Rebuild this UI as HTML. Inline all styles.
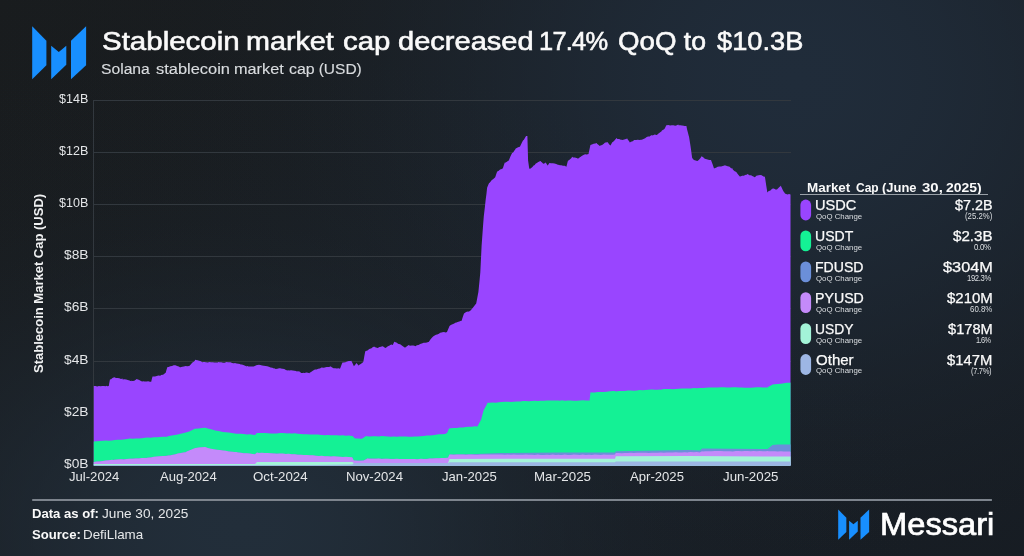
<!DOCTYPE html>
<html lang="en">
<head>
<meta charset="utf-8">
<title>Stablecoin market cap decreased 17.4% QoQ to $10.3B</title>
<style>
*{margin:0;padding:0;box-sizing:border-box}
html,body{width:1024px;height:556px;overflow:hidden;background:#181c20}
body{font-family:"Liberation Sans",sans-serif;color:#f4f5f6;position:relative}
#bg{position:absolute;left:0;top:0;width:1024px;height:556px;
background:
 radial-gradient(ellipse 685px 484px at 240px 530px, rgba(34,46,58,1.000) 0.0%, rgba(34,46,58,0.980) 6.2%, rgba(34,46,58,0.923) 12.5%, rgba(34,46,58,0.835) 18.8%, rgba(34,46,58,0.726) 25.0%, rgba(34,46,58,0.607) 31.2%, rgba(34,46,58,0.487) 37.5%, rgba(34,46,58,0.375) 43.8%, rgba(34,46,58,0.278) 50.0%, rgba(34,46,58,0.198) 56.2%, rgba(34,46,58,0.135) 62.5%, rgba(34,46,58,0.089) 68.8%, rgba(34,46,58,0.056) 75.0%, rgba(34,46,58,0.034) 81.2%, rgba(34,46,58,0.020) 87.5%, rgba(34,46,58,0.011) 93.8%, rgba(34,46,58,0.000) 100.0%),
 radial-gradient(ellipse 826px 734px at 796px 80px, rgba(32,44,58,1.000) 0.0%, rgba(32,44,58,0.980) 6.2%, rgba(32,44,58,0.923) 12.5%, rgba(32,44,58,0.835) 18.8%, rgba(32,44,58,0.726) 25.0%, rgba(32,44,58,0.607) 31.2%, rgba(32,44,58,0.487) 37.5%, rgba(32,44,58,0.375) 43.8%, rgba(32,44,58,0.278) 50.0%, rgba(32,44,58,0.198) 56.2%, rgba(32,44,58,0.135) 62.5%, rgba(32,44,58,0.089) 68.8%, rgba(32,44,58,0.056) 75.0%, rgba(32,44,58,0.034) 81.2%, rgba(32,44,58,0.020) 87.5%, rgba(32,44,58,0.011) 93.8%, rgba(32,44,58,0.000) 100.0%),
 linear-gradient(to bottom right, rgb(25,28,30), rgb(22,27,33));}
.abs{position:absolute;white-space:nowrap;line-height:1}
#title span{font-size:26.6px;color:#fafafa;-webkit-text-stroke:0.6px #fafafa}
#subtitle span{font-size:15.5px;color:#d9dcdf;-webkit-text-stroke:0.15px #d9dcdf}
.yl{font-size:12.3px;color:#e4e6e8}
.xl{font-size:12.6px;color:#e4e6e8}
#ytitle{left:32.4px;top:373.4px;font-size:13px;font-weight:bold;color:#f0f1f2;transform-origin:0 0;transform:rotate(-90deg)}
.ft{font-size:13px;color:#e6e8ea}
.ftb{font-size:13px;font-weight:bold;color:#fafafa}
#lgt span{font-size:12.3px;font-weight:bold;color:#fafafa}
#lgl{left:799.9px;top:194.1px;width:188.5px;height:1px;background:#9aa1a8}
.ln{font-size:14px;color:#fafafa;-webkit-text-stroke:0.25px #fafafa}
.lq{font-size:8px;color:#dcdfe2}
.lp{font-size:8.2px;color:#dcdfe2}
#brand span{font-size:30.6px;color:#fff;-webkit-text-stroke:0.7px #fff}
</style>
</head>
<body>
<div id="bg"></div>
<svg class="abs" style="left:0;top:0" width="1024" height="556" viewBox="0 0 1024 556">
 <!-- header logo -->
 <g fill="#188fff">
  <polygon points="32.2,26.3 46.4,40.8 46.4,65.3 32.2,79.2"/>
  <polygon points="51.2,45.8 58.8,52.1 66.3,45.8 66.3,64.7 51.2,79.2"/>
  <polygon points="71,40.8 86.1,26.3 86.1,65.3 71,79.2"/>
 </g>
 <!-- grid -->
 <g stroke="#32383e" stroke-width="1" shape-rendering="crispEdges">
  <line x1="93" y1="413.3" x2="790.5" y2="413.3"/>
  <line x1="93" y1="361.1" x2="790.5" y2="361.1"/>
  <line x1="93" y1="308.9" x2="790.5" y2="308.9"/>
  <line x1="93" y1="256.7" x2="790.5" y2="256.7"/>
  <line x1="93" y1="204.5" x2="790.5" y2="204.5"/>
  <line x1="93" y1="152.3" x2="790.5" y2="152.3"/>
  <line x1="93" y1="100.1" x2="790.5" y2="100.1"/>
  <line x1="93.5" y1="100" x2="93.5" y2="466"/>
 </g>
 <path fill="#9945ff" d="M93.8,465.6 L93.8,386.1 L95.5,385.9 L97.2,386.4 L98.9,385.9 L100.6,386.3 L102.3,386.1 L104.0,385.9 L105.7,386.3 L106.2,385.8 L107.4,386.3 L108.8,386.1 L109.1,384.1 L110.0,379.3 L110.8,379.4 L112.5,378.0 L114.2,377.3 L115.0,377.4 L115.9,377.9 L117.6,377.9 L119.3,378.2 L121.0,379.1 L122.5,378.6 L122.7,379.4 L124.4,379.2 L126.1,379.5 L127.8,379.9 L129.5,380.4 L131.2,381.3 L131.2,380.7 L132.9,380.9 L134.4,380.7 L134.6,380.4 L136.2,379.4 L136.3,379.0 L138.0,379.6 L139.7,380.3 L141.4,381.3 L142.5,381.4 L143.1,381.3 L144.8,381.6 L146.5,381.5 L148.2,381.3 L149.9,381.8 L151.2,381.7 L151.6,379.9 L152.5,376.6 L153.3,376.4 L155.0,376.4 L156.7,376.0 L158.4,375.4 L160.1,375.7 L161.8,374.7 L161.9,374.9 L163.5,374.4 L165.2,373.0 L165.6,373.1 L166.9,368.4 L167.5,367.1 L168.6,366.9 L170.3,366.3 L172.0,366.1 L173.7,365.2 L175.0,365.2 L175.4,365.2 L177.1,365.9 L178.8,366.4 L180.0,367.2 L180.5,367.2 L182.2,366.7 L183.9,366.6 L185.6,365.9 L187.3,366.3 L188.8,366.1 L189.0,366.2 L190.7,364.5 L192.4,362.4 L192.5,362.4 L194.1,361.4 L195.6,359.6 L195.8,360.0 L197.5,360.3 L199.2,360.8 L200.9,361.3 L202.5,362.5 L202.6,361.9 L204.3,362.0 L206.0,362.2 L207.7,362.6 L209.4,361.9 L211.1,362.2 L212.8,362.3 L214.5,362.6 L216.2,362.5 L217.9,362.6 L218.0,362.1 L219.6,362.2 L221.3,362.2 L223.0,362.7 L224.7,362.8 L226.4,362.1 L228.1,362.2 L229.8,362.2 L230.5,362.3 L231.5,362.8 L233.2,363.3 L234.2,363.3 L234.9,363.1 L236.6,363.6 L238.3,363.7 L240.0,364.0 L240.5,364.4 L241.7,364.6 L243.4,365.1 L245.1,365.8 L246.8,366.4 L246.8,365.8 L248.5,366.6 L250.2,366.5 L251.9,366.6 L253.6,366.5 L254.2,366.2 L255.3,365.8 L257.0,365.0 L258.0,365.1 L258.7,364.7 L260.4,365.0 L262.1,365.4 L263.8,365.7 L265.5,366.1 L267.2,366.3 L268.9,366.8 L270.6,367.4 L272.3,367.8 L274.0,368.6 L274.2,368.3 L275.7,369.0 L277.4,368.7 L279.1,368.2 L280.5,368.3 L280.8,368.4 L282.5,368.8 L284.2,369.0 L285.9,370.1 L287.6,370.6 L288.0,370.2 L289.3,370.4 L291.0,370.2 L292.7,370.4 L294.4,370.8 L296.1,371.0 L296.8,371.5 L297.8,371.3 L299.5,371.6 L301.2,373.0 L302.9,373.1 L303.0,372.8 L304.6,373.0 L306.3,372.5 L308.0,372.8 L309.2,373.2 L309.7,372.8 L311.4,371.7 L313.1,370.4 L314.2,369.9 L314.8,369.5 L316.5,369.6 L318.2,368.8 L319.9,368.6 L321.6,367.6 L321.8,367.5 L323.3,367.7 L325.0,367.4 L325.5,367.2 L326.7,367.1 L328.4,367.0 L330.1,366.7 L330.5,366.3 L331.8,367.3 L333.5,368.2 L334.2,368.3 L335.2,368.3 L336.9,368.4 L338.6,368.3 L339.9,368.7 L340.3,367.9 L342.0,363.4 L342.5,362.6 L343.7,362.5 L345.4,362.2 L347.1,361.5 L348.8,361.1 L350.5,360.9 L351.3,360.7 L352.2,362.5 L353.8,366.1 L353.9,366.2 L355.6,364.2 L356.4,362.9 L357.3,363.9 L358.9,365.7 L359.0,364.9 L360.7,364.0 L362.4,362.7 L363.3,361.9 L364.1,357.6 L365.2,351.5 L365.8,350.9 L367.5,350.4 L369.2,349.0 L370.9,348.4 L371.5,348.2 L372.6,347.2 L374.3,346.5 L374.6,346.9 L376.0,347.5 L377.7,348.0 L377.8,348.1 L379.4,347.1 L381.1,346.8 L381.5,346.5 L382.8,346.3 L384.5,347.4 L385.9,347.9 L386.2,347.5 L387.9,346.3 L389.6,345.6 L390.3,344.9 L391.3,344.5 L392.9,345.0 L393.0,344.5 L394.4,341.5 L394.7,342.0 L396.4,342.5 L398.1,343.8 L399.2,344.3 L399.8,344.1 L401.5,345.3 L403.2,346.5 L404.8,347.6 L404.9,347.8 L406.6,346.4 L408.3,345.3 L408.6,344.9 L410.0,345.7 L411.7,345.4 L413.4,345.6 L415.1,345.9 L415.5,346.3 L416.8,345.3 L418.5,345.1 L420.2,344.0 L421.8,343.4 L421.9,343.4 L423.6,342.7 L425.3,342.8 L427.0,342.4 L428.1,342.1 L428.7,342.0 L430.4,339.4 L432.1,337.6 L433.1,336.6 L433.8,336.1 L435.5,335.0 L436.9,334.5 L437.2,334.4 L438.9,333.8 L440.6,332.4 L440.7,332.8 L442.3,332.3 L444.0,332.1 L445.7,332.4 L447.0,332.0 L447.4,331.0 L449.1,326.9 L449.5,326.1 L450.8,325.0 L452.5,324.3 L454.2,323.4 L455.8,322.6 L455.9,322.7 L457.6,322.0 L459.3,321.5 L461.0,320.8 L461.5,321.1 L462.7,317.2 L464.0,313.4 L464.4,313.3 L466.1,311.9 L467.8,311.4 L468.0,311.7 L469.5,311.2 L470.8,310.2 L471.2,309.7 L472.9,307.8 L474.6,305.4 L476.2,303.6 L476.3,302.9 L478.0,294.0 L478.4,291.9 L479.7,279.0 L480.3,272.4 L481.4,250.0 L481.6,245.8 L483.1,225.1 L483.8,216.3 L484.8,207.8 L485.7,199.4 L486.5,193.4 L487.1,187.8 L488.2,185.0 L489.0,183.3 L489.9,182.4 L491.6,180.2 L493.3,178.9 L495.0,177.5 L495.3,177.1 L496.7,172.8 L497.2,171.4 L498.4,171.1 L500.1,169.5 L501.8,169.1 L502.9,168.3 L503.5,166.2 L504.8,162.6 L505.2,162.7 L506.9,161.7 L508.5,160.5 L508.6,161.1 L510.3,156.8 L511.1,155.0 L512.0,153.3 L513.6,151.9 L513.7,151.5 L515.4,149.3 L515.5,148.7 L517.1,147.7 L518.8,147.0 L519.9,146.8 L520.5,145.6 L522.2,142.0 L523.0,140.4 L523.9,139.7 L525.6,136.7 L526.2,135.9 L527.3,135.9 L527.4,135.9 L528.1,160.4 L529.0,166.8 L529.3,168.7 L530.7,168.5 L531.2,167.9 L532.4,167.1 L534.1,165.1 L534.3,165.6 L535.8,163.5 L536.9,163.1 L537.5,162.5 L539.2,161.5 L540.6,160.9 L540.9,161.6 L542.6,163.1 L543.2,163.7 L544.3,163.5 L545.7,162.6 L546.0,162.9 L547.6,165.6 L547.7,165.4 L549.4,163.1 L551.1,163.2 L552.8,163.2 L554.5,163.6 L556.2,163.9 L557.9,164.7 L559.5,165.0 L559.6,165.2 L561.3,165.2 L563.0,165.7 L564.7,165.8 L566.4,166.7 L567.7,161.5 L568.1,160.8 L569.8,159.4 L571.5,158.1 L572.1,156.7 L573.2,157.6 L574.9,157.6 L576.6,158.0 L578.3,158.7 L578.4,158.3 L580.0,157.2 L581.7,156.1 L583.4,155.0 L585.1,154.2 L586.8,154.4 L588.5,154.1 L590.2,146.1 L590.4,145.0 L591.9,144.5 L593.6,143.8 L595.3,143.4 L596.7,142.9 L597.0,143.8 L598.7,145.1 L599.8,146.1 L600.4,145.6 L602.1,145.0 L603.8,143.7 L604.8,142.8 L605.5,142.4 L607.2,142.3 L607.8,142.3 L608.9,144.0 L610.3,145.6 L610.6,145.3 L612.3,142.2 L612.8,141.9 L614.0,140.9 L615.7,139.1 L616.6,138.1 L617.4,139.0 L619.1,139.1 L620.8,139.8 L621.6,139.8 L622.5,139.9 L624.2,139.5 L625.9,139.1 L627.3,138.4 L627.6,139.2 L629.3,141.5 L629.8,142.5 L631.0,141.7 L632.7,141.2 L634.2,140.1 L634.4,140.0 L636.1,140.1 L637.8,139.8 L639.5,139.9 L641.2,139.7 L641.8,139.8 L642.9,139.2 L644.6,138.4 L645.5,138.0 L646.3,137.3 L648.0,136.6 L649.7,136.5 L651.4,135.0 L651.8,135.4 L653.1,135.2 L654.8,134.4 L656.5,134.9 L656.9,134.9 L658.2,133.7 L659.9,132.5 L661.6,131.3 L661.9,130.5 L663.3,129.8 L664.4,128.9 L665.0,127.9 L666.3,125.2 L666.7,125.2 L668.4,125.0 L670.1,125.4 L671.8,125.3 L672.0,125.3 L673.5,125.3 L675.1,125.7 L675.2,125.7 L676.9,125.3 L678.3,124.5 L678.6,125.2 L680.3,125.2 L682.0,125.5 L683.7,125.7 L684.6,125.9 L685.4,126.0 L686.4,126.0 L687.1,129.4 L688.8,135.9 L689.0,136.4 L690.5,145.9 L690.8,147.9 L692.1,157.4 L692.2,158.1 L693.9,159.9 L694.0,159.9 L695.6,160.4 L697.3,161.1 L697.8,160.7 L699.0,159.7 L700.7,157.7 L701.5,156.3 L702.4,156.8 L704.1,158.1 L704.7,158.7 L705.8,159.1 L707.5,159.4 L709.2,159.9 L710.9,159.9 L711.0,160.0 L712.6,164.3 L714.1,168.7 L714.3,168.2 L716.0,167.8 L717.3,166.9 L717.7,166.8 L719.4,166.6 L721.1,166.5 L722.8,166.1 L724.5,165.6 L724.8,165.2 L726.2,165.8 L727.6,166.2 L727.9,166.3 L729.6,166.8 L731.3,168.4 L732.1,168.1 L733.0,169.7 L734.7,171.2 L736.4,171.9 L736.6,172.5 L738.1,174.5 L739.8,176.5 L740.2,176.5 L741.5,176.0 L743.2,175.5 L743.8,176.0 L744.9,174.9 L746.6,174.7 L747.4,174.0 L748.3,174.5 L750.0,175.4 L751.0,174.9 L751.7,175.8 L753.4,176.4 L754.6,177.3 L755.1,176.9 L756.8,175.5 L757.7,175.6 L758.5,175.3 L760.2,175.0 L761.8,175.2 L761.9,175.6 L763.6,176.4 L764.9,176.8 L765.3,179.2 L766.3,185.9 L767.0,190.2 L767.3,192.6 L768.7,190.9 L769.9,190.7 L770.4,190.5 L772.1,188.8 L773.5,188.6 L773.8,188.5 L775.5,189.4 L777.0,189.4 L777.2,189.3 L778.9,187.4 L780.6,186.1 L780.7,185.6 L782.3,188.9 L783.4,191.3 L784.0,192.1 L785.2,193.7 L785.7,193.7 L787.4,194.4 L789.1,193.9 L790.5,194.5 L790.5,465.6 Z"/>
<path fill="#14f195" d="M93.8,465.6 L93.8,441.5 L96.8,441.2 L99.8,441.1 L102.8,440.7 L105.8,440.6 L108.8,440.7 L111.8,440.4 L114.8,440.1 L117.8,439.8 L120.8,439.7 L123.8,439.5 L126.8,439.0 L127.0,439.1 L129.8,438.6 L132.8,438.8 L135.8,438.5 L138.8,438.4 L141.8,438.2 L144.8,437.8 L147.8,437.5 L150.8,437.8 L153.8,437.2 L156.8,437.2 L159.8,437.0 L162.8,436.8 L165.8,436.8 L166.0,436.9 L168.8,436.0 L171.8,435.6 L174.8,434.9 L177.8,434.4 L180.8,433.7 L183.8,433.0 L185.7,432.6 L186.8,432.2 L189.8,431.2 L192.8,429.7 L195.4,428.4 L195.8,428.7 L198.8,428.6 L201.8,428.1 L204.8,427.8 L205.2,427.8 L207.8,428.5 L210.8,429.3 L213.8,430.0 L215.0,430.4 L216.8,430.7 L219.8,431.3 L222.8,431.9 L225.8,432.3 L228.8,432.6 L231.8,433.0 L234.8,433.6 L236.4,433.7 L237.8,433.8 L240.8,433.8 L243.8,434.1 L246.8,434.6 L249.8,434.3 L252.8,434.7 L255.0,434.9 L255.8,434.3 L257.0,433.1 L258.8,433.1 L261.8,433.1 L264.8,433.1 L267.8,433.2 L270.8,433.4 L273.8,433.4 L276.8,433.4 L279.8,433.0 L282.8,433.0 L285.8,433.3 L288.0,433.4 L288.8,433.2 L291.8,433.4 L294.8,433.3 L297.8,433.7 L300.8,434.1 L303.8,434.2 L306.8,434.3 L309.8,434.6 L312.8,434.4 L315.8,434.4 L318.8,434.6 L319.0,434.8 L321.8,435.0 L324.8,435.2 L327.8,435.1 L330.8,435.2 L333.8,435.3 L336.8,435.3 L339.8,435.4 L342.8,435.2 L345.8,435.7 L348.8,435.5 L351.8,435.9 L352.3,435.8 L354.8,438.2 L355.2,438.5 L357.8,438.6 L360.8,438.8 L362.0,438.8 L363.8,437.4 L366.0,436.1 L366.8,436.3 L369.8,436.4 L372.8,436.3 L375.8,436.2 L378.8,436.4 L381.8,436.1 L384.8,436.3 L387.8,436.4 L390.8,436.7 L393.8,436.5 L396.8,436.7 L399.8,436.5 L402.8,436.4 L405.8,436.4 L408.8,436.8 L411.8,436.7 L414.8,436.5 L416.7,436.4 L417.8,436.5 L420.8,436.3 L423.8,435.9 L426.8,435.6 L429.8,435.5 L432.8,435.3 L435.8,434.7 L438.8,434.3 L441.8,434.2 L444.8,434.0 L445.0,434.1 L447.0,433.0 L447.8,431.4 L449.0,428.5 L450.8,428.3 L453.8,427.9 L456.8,428.0 L459.8,427.5 L462.8,427.5 L465.8,427.0 L468.8,426.7 L471.8,426.8 L474.8,426.3 L477.5,426.4 L477.8,425.7 L480.8,420.2 L481.0,419.9 L483.7,410.0 L483.8,409.9 L486.8,404.5 L487.5,402.8 L489.8,402.8 L492.8,402.6 L495.8,402.8 L498.8,402.2 L501.8,402.0 L504.8,401.8 L507.8,401.8 L510.8,401.9 L513.8,401.7 L516.8,401.5 L519.8,401.5 L520.0,401.4 L522.8,401.1 L525.8,400.9 L528.8,401.3 L531.8,401.1 L534.8,400.7 L537.8,401.0 L540.8,400.8 L543.8,400.7 L546.8,400.6 L549.8,400.5 L552.8,400.4 L555.8,400.5 L558.8,400.4 L560.0,400.7 L561.8,400.3 L564.8,400.7 L567.8,400.4 L570.8,400.4 L573.8,400.7 L576.8,400.7 L579.8,400.5 L582.8,400.3 L585.8,400.5 L588.8,400.4 L589.5,400.7 L590.5,392.3 L591.8,392.4 L594.8,392.5 L597.8,391.9 L600.8,391.9 L603.8,392.0 L606.8,391.8 L609.8,391.2 L612.8,391.1 L615.0,391.0 L615.8,391.4 L618.8,390.9 L621.8,391.1 L624.8,391.0 L627.8,390.6 L630.8,390.5 L633.8,390.7 L636.8,390.4 L639.8,390.1 L642.8,390.3 L645.8,389.9 L648.8,389.8 L651.8,389.6 L654.8,389.8 L657.8,389.8 L660.0,389.6 L660.8,389.7 L663.8,389.1 L666.8,389.1 L669.8,389.1 L672.8,389.2 L675.8,389.1 L678.8,388.7 L681.8,388.5 L684.8,388.5 L687.8,388.4 L690.8,388.5 L693.8,388.0 L696.8,388.2 L699.8,388.0 L702.8,387.9 L705.8,387.8 L708.8,387.6 L710.0,387.4 L711.8,387.4 L714.8,387.4 L717.8,387.6 L720.8,387.3 L723.8,387.3 L726.8,387.6 L729.8,387.4 L732.8,387.3 L735.8,387.3 L738.8,387.5 L741.8,387.4 L744.8,387.7 L747.8,387.7 L750.8,387.7 L753.8,387.4 L756.8,387.3 L759.8,387.3 L762.8,387.5 L765.8,387.6 L767.5,387.5 L768.8,386.6 L771.8,384.9 L772.5,384.6 L774.8,384.3 L777.8,384.0 L780.8,383.8 L783.8,383.3 L786.8,382.7 L789.8,382.7 L790.5,382.4 L790.5,465.6 Z"/>
<path fill="#6b8fd9" d="M93.8,465.6 L93.8,462.0 L113.4,459.8 L146.6,457.8 L170.0,455.3 L185.7,452.0 L195.4,448.0 L205.2,447.0 L211.0,449.0 L236.4,452.3 L255.0,454.3 L257.0,452.7 L288.0,453.9 L319.0,455.9 L352.3,457.2 L353.8,460.5 L364.0,460.5 L367.0,458.6 L416.7,459.2 L448.0,457.8 L449.5,454.5 L470.0,454.3 L500.0,453.0 L560.0,452.5 L615.0,452.5 L615.8,451.2 L688.0,450.0 L700.0,450.4 L702.0,448.6 L767.5,449.1 L772.5,445.0 L778.0,444.5 L790.5,444.5 L790.5,465.6 Z"/>
<path fill="#c48afa" d="M93.8,465.6 L93.8,462.0 L96.8,461.6 L99.8,461.4 L102.8,460.9 L105.8,460.6 L108.8,460.2 L111.8,459.8 L113.4,460.0 L114.8,459.7 L117.8,459.5 L120.8,459.3 L123.8,459.4 L126.8,459.0 L129.8,458.7 L132.8,458.8 L135.8,458.5 L138.8,458.5 L141.8,457.9 L144.8,457.9 L146.6,457.9 L147.8,457.8 L150.8,457.5 L153.8,456.8 L156.8,456.6 L159.8,456.2 L162.8,455.9 L165.8,455.9 L168.8,455.5 L170.0,455.5 L171.8,454.9 L174.8,454.4 L177.8,453.6 L180.8,452.9 L183.8,452.5 L185.7,452.2 L186.8,451.4 L189.8,450.3 L192.8,449.1 L195.4,447.9 L195.8,447.9 L198.8,447.5 L201.8,447.2 L204.8,446.9 L205.2,447.0 L207.8,448.0 L210.8,448.8 L211.0,448.8 L213.8,449.3 L216.8,449.8 L219.8,450.0 L222.8,450.5 L225.8,450.8 L228.8,451.4 L231.8,451.7 L234.8,451.9 L236.4,452.1 L237.8,452.4 L240.8,452.8 L243.8,453.2 L246.8,453.3 L249.8,453.6 L252.8,454.1 L255.0,454.3 L255.8,453.6 L257.0,452.6 L258.8,453.0 L261.8,452.8 L264.8,453.0 L267.8,453.1 L270.8,453.2 L273.8,453.5 L276.8,453.7 L279.8,453.5 L282.8,453.6 L285.8,453.9 L288.0,453.8 L288.8,453.8 L291.8,454.3 L294.8,454.3 L297.8,454.7 L300.8,454.7 L303.8,455.1 L306.8,455.1 L309.8,455.2 L312.8,455.3 L315.8,455.7 L318.8,455.9 L319.0,456.1 L321.8,455.8 L324.8,456.2 L327.8,456.2 L330.8,456.4 L333.8,456.3 L336.8,456.5 L339.8,456.7 L342.8,457.0 L345.8,456.8 L348.8,457.1 L351.8,457.3 L352.3,457.4 L353.8,460.4 L354.8,460.4 L357.8,460.7 L360.8,460.7 L363.8,460.5 L364.0,460.3 L366.8,458.9 L367.0,458.6 L369.8,458.8 L372.8,458.7 L375.8,458.8 L378.8,458.6 L381.8,458.9 L384.8,458.7 L387.8,458.8 L390.8,459.0 L393.8,459.1 L396.8,458.8 L399.8,458.9 L402.8,459.0 L405.8,459.1 L408.8,459.1 L411.8,459.0 L414.8,459.1 L416.7,459.3 L417.8,459.3 L420.8,458.8 L423.8,458.9 L426.8,458.9 L429.8,458.4 L432.8,458.6 L435.8,458.2 L438.8,458.3 L441.8,458.1 L444.8,458.0 L447.8,457.7 L448.0,457.8 L449.5,454.6 L450.8,454.6 L453.8,454.7 L456.8,454.6 L459.8,454.6 L462.8,454.4 L465.8,454.7 L468.8,454.6 L471.8,454.5 L474.8,454.7 L477.8,454.8 L480.8,454.6 L483.8,454.5 L486.8,454.6 L489.8,454.5 L492.8,454.5 L495.8,454.6 L498.8,454.5 L501.8,454.6 L504.8,454.7 L507.8,454.5 L510.8,454.7 L513.8,454.5 L516.8,454.8 L519.8,454.8 L522.8,454.7 L525.8,454.5 L528.8,454.7 L531.8,454.7 L534.8,454.9 L537.8,454.6 L540.8,454.9 L543.8,454.9 L546.8,454.8 L549.8,454.9 L552.8,454.6 L555.8,454.9 L558.8,454.7 L560.0,454.9 L561.8,454.9 L564.8,454.6 L567.8,454.9 L570.8,454.9 L573.8,454.6 L576.8,454.7 L579.8,454.9 L582.8,454.6 L585.8,454.9 L588.8,454.7 L591.8,454.9 L594.8,454.6 L597.8,454.8 L600.8,454.9 L603.8,454.6 L606.8,454.7 L609.8,454.8 L612.8,454.7 L615.0,454.6 L615.8,453.0 L618.8,452.9 L621.8,453.2 L624.8,453.1 L627.8,453.1 L630.8,452.8 L633.8,453.0 L636.8,452.7 L639.8,452.8 L642.8,452.8 L645.8,452.7 L648.8,452.9 L651.8,452.7 L654.8,452.7 L657.8,452.8 L660.8,452.4 L663.8,452.7 L666.8,452.6 L669.8,452.4 L672.8,452.5 L675.8,452.3 L678.8,452.6 L681.8,452.4 L684.8,452.2 L687.8,452.4 L688.0,452.2 L690.8,452.1 L693.8,452.3 L696.8,452.1 L699.8,452.4 L700.0,452.2 L702.0,451.3 L702.8,451.4 L705.8,451.3 L708.8,451.3 L711.8,451.2 L714.8,451.1 L717.8,451.1 L720.8,451.1 L723.8,451.3 L726.8,451.2 L729.8,451.3 L732.8,451.4 L735.8,451.1 L738.8,451.1 L741.8,451.3 L744.8,451.1 L747.8,451.1 L750.8,451.2 L753.8,451.1 L756.8,451.2 L759.8,451.1 L762.8,451.3 L765.8,451.3 L767.5,451.1 L768.8,451.3 L771.8,451.3 L774.8,451.2 L777.8,451.6 L780.8,451.3 L783.8,451.4 L786.8,451.4 L789.8,451.6 L790.5,451.7 L790.5,465.6 Z"/>
<path fill="#a3f4d8" d="M93.8,465.6 L93.8,464.0 L255.0,464.0 L257.0,462.1 L352.3,462.1 L353.8,463.0 L448.0,463.0 L449.5,458.9 L560.0,458.8 L615.0,458.8 L615.8,456.2 L688.0,456.0 L790.5,456.6 L790.5,465.6 Z"/>
<path fill="#9db6e4" d="M93.8,465.6 L93.8,465.3 L300.0,465.2 L352.3,464.4 L353.8,463.0 L448.0,463.0 L449.5,462.2 L560.0,462.2 L615.0,462.2 L615.8,461.5 L790.5,461.6 L790.5,465.6 Z"/>
 <rect x="32.2" y="499" width="959.7" height="2" fill="#7d848d"/>
 <rect x="800.4" y="199.60" width="10.7" height="20.8" rx="5.35" fill="#9945ff"/>
 <rect x="800.4" y="230.50" width="10.7" height="20.8" rx="5.35" fill="#14f195"/>
 <rect x="800.4" y="261.40" width="10.7" height="20.8" rx="5.35" fill="#6b8fd9"/>
 <rect x="800.4" y="292.30" width="10.7" height="20.8" rx="5.35" fill="#c48afa"/>
 <rect x="800.4" y="323.20" width="10.7" height="20.8" rx="5.35" fill="#a3f4d8"/>
 <rect x="800.4" y="354.10" width="10.7" height="20.8" rx="5.35" fill="#9db6e4"/>
 <!-- footer logo -->
 <g fill="#188fff" transform="translate(838.2,509.5) scale(0.574) translate(-32.2,-26.3)">
  <polygon points="32.2,26.3 46.4,40.8 46.4,65.3 32.2,79.2"/>
  <polygon points="51.2,45.8 58.8,52.1 66.3,45.8 66.3,64.7 51.2,79.2"/>
  <polygon points="71,40.8 86.1,26.3 86.1,65.3 71,79.2"/>
 </g>
</svg>
<div id="title"><span class="abs " style="left:101.64px;top:28.28px;transform-origin:0 50%;transform:scaleX(1.1086)">Stablecoin</span>
<span class="abs " style="left:246.17px;top:28.28px;transform-origin:0 50%;transform:scaleX(1.0802)">market</span>
<span class="abs " style="left:343.15px;top:28.28px;transform-origin:0 50%;transform:scaleX(1.1037)">cap</span>
<span class="abs " style="left:397.66px;top:28.28px;transform-origin:0 50%;transform:scaleX(1.0922)">decreased</span>
<span class="abs " style="left:539.34px;top:28.28px;letter-spacing:-0.816px;transform-origin:0 50%;transform:scaleX(0.9572)">17.4%</span>
<span class="abs " style="left:617.71px;top:28.28px;transform-origin:0 50%;transform:scaleX(1.0417)">QoQ</span>
<span class="abs " style="left:683.75px;top:28.28px;transform-origin:0 50%;transform:scaleX(1.0000)">to</span>
<span class="abs " style="left:717.00px;top:28.28px;transform-origin:0 50%;transform:scaleX(1.0241)">$10.3B</span></div>
<div id="subtitle"><span class="abs " style="left:101.09px;top:61.28px;transform-origin:0 50%;transform:scaleX(1.0104)">Solana</span>
<span class="abs " style="left:156.10px;top:61.28px;transform-origin:0 50%;transform:scaleX(1.0594)">stablecoin</span>
<span class="abs " style="left:233.85px;top:61.28px;transform-origin:0 50%;transform:scaleX(1.0500)">market</span>
<span class="abs " style="left:288.90px;top:61.28px;transform-origin:0 50%;transform:scaleX(1.0250)">cap</span>
<span class="abs " style="left:318.70px;top:61.28px;transform-origin:0 50%;transform:scaleX(1.0000)">(USD)</span></div>
<span class="abs yl" style="left:63.90px;top:458.09px;transform-origin:0 50%;transform:scaleX(1.1190)">$0B</span>
<span class="abs yl" style="left:63.90px;top:405.89px;transform-origin:0 50%;transform:scaleX(1.1190)">$2B</span>
<span class="abs yl" style="left:63.90px;top:353.69px;transform-origin:0 50%;transform:scaleX(1.1190)">$4B</span>
<span class="abs yl" style="left:63.90px;top:301.49px;transform-origin:0 50%;transform:scaleX(1.1190)">$6B</span>
<span class="abs yl" style="left:63.90px;top:249.29px;transform-origin:0 50%;transform:scaleX(1.1190)">$8B</span>
<span class="abs yl" style="left:59.00px;top:197.09px;transform-origin:0 50%;transform:scaleX(1.0179)">$10B</span>
<span class="abs yl" style="left:59.00px;top:144.89px;transform-origin:0 50%;transform:scaleX(1.0179)">$12B</span>
<span class="abs yl" style="left:59.00px;top:92.69px;transform-origin:0 50%;transform:scaleX(1.0179)">$14B</span>
<div id="ytitle" class="abs">Stablecoin Market Cap (USD)</div>
<span class="abs xl" style="left:69.00px;top:471.03px;transform-origin:0 50%;transform:scaleX(1.0396)">Jul-2024</span>
<span class="abs xl" style="left:160.10px;top:471.03px;transform-origin:0 50%;transform:scaleX(1.0370)">Aug-2024</span>
<span class="abs xl" style="left:253.35px;top:471.03px;transform-origin:0 50%;transform:scaleX(1.0549)">Oct-2024</span>
<span class="abs xl" style="left:346.16px;top:471.03px;transform-origin:0 50%;transform:scaleX(1.0434)">Nov-2024</span>
<span class="abs xl" style="left:441.90px;top:471.03px;transform-origin:0 50%;transform:scaleX(1.0423)">Jan-2025</span>
<span class="abs xl" style="left:533.74px;top:471.03px;transform-origin:0 50%;transform:scaleX(1.0566)">Mar-2025</span>
<span class="abs xl" style="left:629.80px;top:471.03px;transform-origin:0 50%;transform:scaleX(1.0412)">Apr-2025</span>
<span class="abs xl" style="left:722.60px;top:471.03px;transform-origin:0 50%;transform:scaleX(1.0558)">Jun-2025</span>
<div id="foot"><span class="abs ftb" style="left:31.89px;top:507.10px;transform-origin:0 50%;transform:scaleX(1.0078)">Data as of:</span>
<span class="abs ftb" style="left:31.89px;top:527.50px;transform-origin:0 50%;transform:scaleX(1.0087)">Source:</span>
<span class="abs ft" style="left:102.00px;top:507.10px;transform-origin:0 50%;transform:scaleX(1.0476)">June 30, 2025</span>
<span class="abs ft" style="left:82.97px;top:527.50px;transform-origin:0 50%;transform:scaleX(1.0281)">DefiLlama</span></div>
<div id="lgt"><span class="abs " style="left:807.01px;top:181.59px;transform-origin:0 50%;transform:scaleX(1.0923)">Market</span>
<span class="abs " style="left:855.60px;top:181.59px;transform-origin:0 50%;transform:scaleX(0.9739)">Cap</span>
<span class="abs " style="left:882.45px;top:181.59px;transform-origin:0 50%;transform:scaleX(1.0516)">(June</span>
<span class="abs " style="left:922.00px;top:181.59px;transform-origin:0 50%;transform:scaleX(1.2188)">30,</span>
<span class="abs " style="left:946.00px;top:181.59px;transform-origin:0 50%;transform:scaleX(1.1355)">2025)</span></div>
<div id="lgl" class="abs"></div>
<span class="abs ln" style="left:815.26px;top:198.25px;transform-origin:0 50%;transform:scaleX(1.0421)">USDC</span>
<span class="abs ln" style="left:954.60px;top:198.25px;transform-origin:0 50%;transform:scaleX(1.0278)">$7.2B</span>
<span class="abs lq" style="left:816.10px;top:213.13px;transform-origin:0 50%;transform:scaleX(0.9787)">QoQ Change</span>
<span class="abs lp" style="left:965.00px;top:213.36px;transform-origin:0 50%;transform:scaleX(0.9500)">(25.2%)</span>
<span class="abs ln" style="left:815.30px;top:229.10px;transform-origin:0 50%;transform:scaleX(1.0027)">USDT</span>
<span class="abs ln" style="left:952.75px;top:229.10px;transform-origin:0 50%;transform:scaleX(1.0792)">$2.3B</span>
<span class="abs lq" style="left:816.10px;top:243.98px;transform-origin:0 50%;transform:scaleX(0.9787)">QoQ Change</span>
<span class="abs lp" style="left:974.20px;top:244.21px;letter-spacing:-0.278px;transform-origin:0 50%;transform:scaleX(0.9579)">0.0%</span>
<span class="abs ln" style="left:815.29px;top:259.95px;transform-origin:0 50%;transform:scaleX(1.0064)">FDUSD</span>
<span class="abs ln" style="left:942.70px;top:259.95px;transform-origin:0 50%;transform:scaleX(1.1643)">$304M</span>
<span class="abs lq" style="left:816.10px;top:274.83px;transform-origin:0 50%;transform:scaleX(0.9787)">QoQ Change</span>
<span class="abs lp" style="left:967.16px;top:275.06px;letter-spacing:-0.374px;transform-origin:0 50%;transform:scaleX(0.9352)">192.3%</span>
<span class="abs ln" style="left:815.29px;top:290.80px;transform-origin:0 50%;transform:scaleX(1.0128)">PYUSD</span>
<span class="abs ln" style="left:946.60px;top:290.80px;transform-origin:0 50%;transform:scaleX(1.0714)">$210M</span>
<span class="abs lq" style="left:816.10px;top:305.68px;transform-origin:0 50%;transform:scaleX(0.9787)">QoQ Change</span>
<span class="abs lp" style="left:969.50px;top:305.91px;transform-origin:0 50%;transform:scaleX(0.9609)">60.8%</span>
<span class="abs ln" style="left:815.31px;top:321.65px;transform-origin:0 50%;transform:scaleX(0.9895)">USDY</span>
<span class="abs ln" style="left:947.70px;top:321.65px;transform-origin:0 50%;transform:scaleX(1.0452)">$178M</span>
<span class="abs lq" style="left:816.10px;top:336.53px;transform-origin:0 50%;transform:scaleX(0.9787)">QoQ Change</span>
<span class="abs lp" style="left:976.20px;top:336.76px;letter-spacing:-0.646px;transform-origin:0 50%;transform:scaleX(0.9028)">1.6%</span>
<span class="abs ln" style="left:816.30px;top:352.50px;transform-origin:0 50%;transform:scaleX(1.0743)">Other</span>
<span class="abs ln" style="left:947.20px;top:352.50px;transform-origin:0 50%;transform:scaleX(1.0571)">$147M</span>
<span class="abs lq" style="left:816.10px;top:367.38px;transform-origin:0 50%;transform:scaleX(0.9787)">QoQ Change</span>
<span class="abs lp" style="left:971.10px;top:367.61px;letter-spacing:-0.378px;transform-origin:0 50%;transform:scaleX(0.9271)">(7.7%)</span>
<div id="brand"><span class="abs " style="left:879.96px;top:508.90px;transform-origin:0 50%;transform:scaleX(1.0680)">Messari</span></div>
</body>
</html>
